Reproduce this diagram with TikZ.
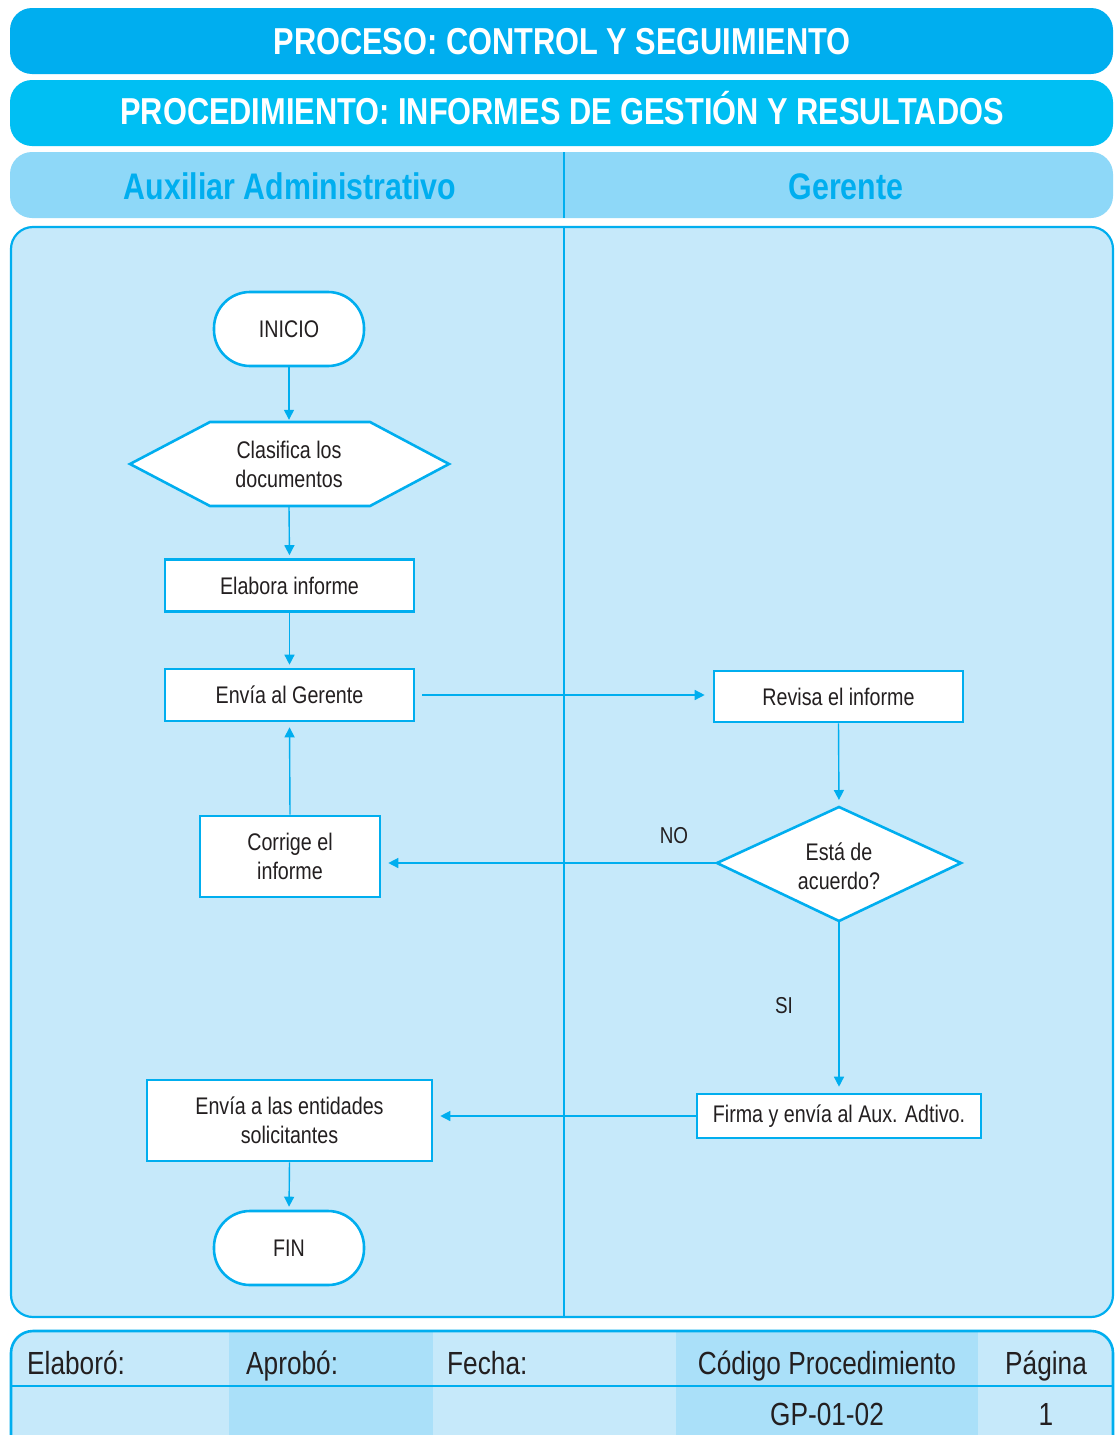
\documentclass[tikz,border=0pt]{standalone}
\usepackage{fontspec}
\setmainfont[FakeStretch=0.82]{Liberation Sans}
\usetikzlibrary{arrows.meta}
\definecolor{hdrA}{RGB}{0,174,239}
\definecolor{hdrB}{RGB}{0,191,243}
\definecolor{laneC}{RGB}{142,216,248}
\definecolor{bodyC}{RGB}{198,233,250}
\definecolor{colD}{RGB}{170,224,249}
\definecolor{lineC}{RGB}{0,174,239}
\definecolor{inkC}{RGB}{35,31,32}
\tikzset{
  box/.style={draw=lineC, line width=2.6pt, fill=white, text=inkC, align=center,
    font=\fontsize{24}{29}\selectfont, inner sep=0pt},
  term/.style={box, rounded corners=36pt, minimum width=150pt, minimum height=74pt},
  ghost/.style={text=inkC, align=center, font=\fontsize{24}{29}\selectfont, inner sep=0pt},
  shapeline/.style={draw=lineC, line width=2.6pt, fill=white, line join=miter},
  arr/.style={draw=lineC, line width=1.4pt, -{Triangle[length=10pt,width=10pt]}},
  lbl/.style={text=inkC, font=\fontsize{23}{27}\selectfont, inner sep=0pt},
  ttl/.style={text=white, font=\bfseries\fontsize{37.5}{40}\selectfont, inner sep=0pt},
  lanettl/.style={text=hdrA, font=\bfseries\fontsize{37}{40}\selectfont, inner sep=0pt},
  foot/.style={text=inkC, font=\fontsize{32}{36}\selectfont, inner sep=0pt}
}
\begin{document}
\begin{tikzpicture}[x=1pt,y=-1pt]
\useasboundingbox (0,0) rectangle (1117,1435);
\fill[white] (0,0) rectangle (1117,1435);

% title bars
\fill[hdrA, rounded corners=22pt] (10,8) rectangle (1113,74);
\node[ttl, anchor=base] (t1) at (562,54) {PROCESO: CONTROL Y SEGUIMIENTO};
\fill[hdrB, rounded corners=22pt] (10,80) rectangle (1113,146);
\node[ttl, anchor=base] (t2) at (562,124) {PROCEDIMIENTO: INFORMES DE GESTIÓN Y RESULTADOS};

% lane headers
\fill[laneC, rounded corners=22pt] (10,152) rectangle (1113,218);
\draw[lineC, line width=2pt] (564,152) -- (564,218);
\node[lanettl, anchor=base] (l1) at (290,199) {Auxiliar Administrativo};
\node[lanettl, anchor=base] (l2) at (846,199) {Gerente};

% lanes body
\draw[fill=bodyC, draw=lineC, line width=2.2pt, rounded corners=22pt] (11,227) rectangle (1113,1317);
\draw[lineC, line width=2pt] (564,227) -- (564,1317);

% footer table
\begin{scope}
  \clip[rounded corners=22pt] (11,1331) rectangle (1113,1480);
  \fill[bodyC] (11,1331) rectangle (1113,1480);
  \fill[colD] (229,1331) rectangle (433,1480);
  \fill[colD] (676,1331) rectangle (978,1480);
\end{scope}
\draw[lineC, line width=2.6pt, rounded corners=22pt] (11,1480) -- (11,1331) -- (1113,1331) -- (1113,1480);
\draw[lineC, line width=2.6pt] (11,1386) -- (1113,1386);
\node[foot, anchor=base west] (f1) at (27,1374) {Elaboró:};
\node[foot, anchor=base west] (f2) at (246,1374) {Aprobó:};
\node[foot, anchor=base west] (f3) at (447,1374) {Fecha:};
\node[foot, anchor=base] (f4) at (827,1374) {Código Procedimiento};
\node[foot, anchor=base] (f5) at (1046,1374) {Página};
\node[foot, anchor=base] (f6) at (827,1425) {GP-01-02};
\node[foot, anchor=base] (f7) at (1046,1425) {1};

% left lane steps
\node[term] (inicio) at (289,329) {INICIO};

\draw[shapeline] (130,464) -- (210,422) -- (370,422) -- (449,464) -- (370,506) -- (210,506) -- cycle;
\node[ghost, minimum width=160pt, minimum height=84pt] (clasifica) at (289,464) {Clasifica los\\documentos};

\node[box, minimum width=249pt, minimum height=52pt] (elabora) at (289.5,585.5) {Elabora informe};
\node[box, minimum width=249pt, minimum height=52pt] (envia) at (289.5,695) {Envía al Gerente};
\node[box, minimum width=180pt, minimum height=81pt] (corrige) at (290,856.5) {Corrige el\\informe};
\node[box, minimum width=285pt, minimum height=81pt] (entidades) at (289.5,1120.5) {Envía a las entidades\\solicitantes};
\node[term] (fin) at (289,1248) {FIN};

% right lane steps
\node[box, minimum width=249pt, minimum height=51pt] (revisa) at (838.5,696.5) {Revisa el informe};

\draw[shapeline] (717,863) -- (839,807) -- (961,863) -- (839,921) -- cycle;
\node[ghost, minimum width=244pt, minimum height=114pt] (acuerdo) at (839,866) {Está de\\acuerdo?};

\node[box, minimum width=284pt, minimum height=44pt] (firma) at (839,1116) {Firma y envía al Aux. Adtivo.};

% connectors
\draw[arr, shorten >=2pt] (inicio.south) -- (clasifica.north);
\draw[arr, shorten >=3pt] (clasifica.south) -- (elabora.north);
\draw[arr, shorten >=3pt] (elabora.south) -- (envia.north);
\draw[arr, shorten <=7pt, shorten >=8pt] (envia.east) -- (envia.east -| revisa.west);
\draw[arr, shorten >=7pt] (revisa.south) -- (839,807);
\draw[arr, shorten >=7pt] (717,863) -- (717,863 -| corrige.east);
\draw[arr, shorten >=5pt] (corrige.north) -- (envia.south);
\draw[arr, shorten >=6pt] (839,921) -- (firma.north);
\draw[arr, shorten >=7pt] (firma.west) -- (firma.west -| entidades.east);
\draw[arr, shorten >=3pt] (entidades.south) -- (fin.north);

% branch labels
\node[lbl] (no) at (674,836) {NO};
\node[lbl] (si) at (784,1006) {SI};
\end{tikzpicture}
\end{document}
